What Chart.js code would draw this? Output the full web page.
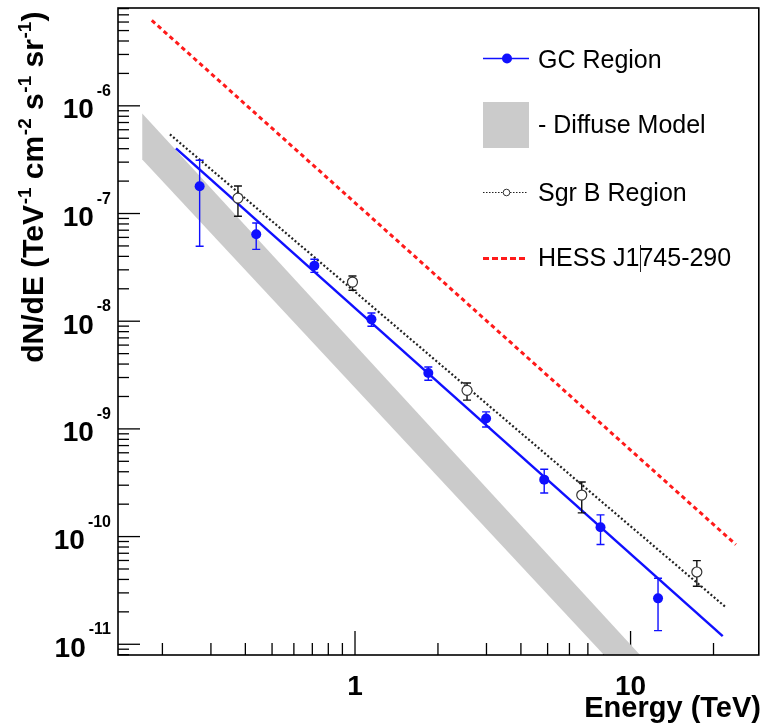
<!DOCTYPE html>
<html><head><meta charset="utf-8">
<script src="https://cdn.jsdelivr.net/npm/chart.js@4.4.1/dist/chart.umd.min.js"></script>
<style>html,body{margin:0;padding:0;background:#fff;}#wrap{width:765px;height:726px;position:relative;}</style>
</head><body><div id="wrap"><canvas id="c"></canvas></div>
<script>
// ---- data ----
const gcEnergy    = [0.273, 0.438, 0.712, 1.147, 1.845, 2.99, 4.86, 7.78, 12.58];
const gcFlux      = [1.79e-7, 6.41e-8, 3.28e-8, 1.04e-8, 3.30e-9, 1.25e-9, 3.38e-10, 1.22e-10, 2.67e-11];
const gcErrHigh   = [3.12e-7, 8.16e-8, 3.76e-8, 1.19e-8, 3.76e-9, 1.44e-9, 4.22e-10, 1.59e-10, 4.10e-11];
const gcErrLow    = [4.96e-8, 4.65e-8, 2.84e-8, 8.97e-9, 2.83e-9, 1.04e-9, 2.54e-10, 8.43e-11, 1.34e-11];

const sgrEnergy   = [0.376, 0.979, 2.55, 6.65, 17.4];
const sgrFlux     = [1.39e-7, 2.31e-8, 2.28e-9, 2.43e-10, 4.69e-11];
const sgrErrHigh  = [1.80e-7, 2.63e-8, 2.67e-9, 3.21e-10, 5.98e-11];
const sgrErrLow   = [9.42e-8, 1.94e-8, 1.85e-9, 1.66e-10, 3.46e-11];

const gcFitEnergy  = [0.224, 21.6];
const gcFitFlux    = [4.03e-7, 1.19e-11];
const sgrFitEnergy = [0.213, 22.1];
const sgrFitFlux   = [5.43e-7, 2.22e-11];
const hessEnergy   = [0.183, 24.1];
const hessFlux     = [6.22e-6, 8.43e-11];

const diffuseEnergy = [0.169, 10.83, 8.01, 0.169];
const diffuseFlux   = [8.47e-7, 7.95e-12, 7.95e-12, 3.18e-7];

const xMajorValues = [1, 10];
const xMajorLabels = ['1', '10'];
const yMajorValues = [1e-11, 1e-10, 1e-9, 1e-8, 1e-7, 1e-6];
const yMajorLabels = ['-11', '-10', '-9', '-8', '-7', '-6'];

const legendLabels = ['GC Region', '- Diffuse Model', 'Sgr B Region', 'HESS J1745-290'];

const X_MIN = 0.138, X_MAX = 29.2, Y_MIN = 7.95e-12, Y_MAX = 8.1e-6;

const BLUE = '#1010ff', RED = '#ff1a1a', GRAY = '#cbcbcb';
const FONT = "'Liberation Sans', Arial, sans-serif";

function pts(xs, ys) { return xs.map((x, i) => ({x: x, y: ys[i]})); }

// ---- plugin: ROOT-like axes, error bars, legend ----
const rootPlugin = {
  id: 'rootStyle',
  beforeDatasetsDraw(chart) {
    const {ctx, chartArea: a, scales: {x, y}} = chart;
    ctx.save();
    ctx.strokeStyle = '#000';
    ctx.lineWidth = 1.3;
    for (let n = -12; n <= -5; n++) {
      for (let k = 1; k <= 9; k++) {
        const v = k * Math.pow(10, n);
        if (v < Y_MIN || v > Y_MAX) continue;
        const py = y.getPixelForValue(v);
        const len = k === 1 ? 22 : 11;
        ctx.beginPath(); ctx.moveTo(a.left, py); ctx.lineTo(a.left + len, py); ctx.stroke();
      }
    }
    for (let n = -1; n <= 1; n++) {
      for (let k = 1; k <= 9; k++) {
        const v = k * Math.pow(10, n);
        if (v < X_MIN || v > X_MAX) continue;
        const px = x.getPixelForValue(v);
        const len = k === 1 ? 24 : 12;
        ctx.beginPath(); ctx.moveTo(px, a.bottom); ctx.lineTo(px, a.bottom - len); ctx.stroke();
      }
    }
    ctx.restore();
  },
  beforeDatasetDraw(chart, args) {
    const ds = chart.data.datasets[args.index];
    if (!ds.errorBars) return;
    const {ctx, scales: {x, y}} = chart;
    const eb = ds.errorBars;
    ctx.save();
    ctx.strokeStyle = eb.color;
    ctx.lineWidth = 1.4;
    ds.data.forEach((p, i) => {
      const px = x.getPixelForValue(p.x);
      const y1 = y.getPixelForValue(eb.high[i]);
      const y2 = y.getPixelForValue(eb.low[i]);
      ctx.beginPath();
      ctx.moveTo(px, y1); ctx.lineTo(px, y2);
      ctx.moveTo(px - 4, y1); ctx.lineTo(px + 4, y1);
      ctx.moveTo(px - 4, y2); ctx.lineTo(px + 4, y2);
      ctx.stroke();
    });
    ctx.restore();
  },
  afterDatasetsDraw(chart) {
    const {ctx, chartArea: a} = chart;
    ctx.save();
    ctx.strokeStyle = '#000';
    ctx.lineWidth = 1.6;
    ctx.strokeRect(a.left, a.top, a.right - a.left, a.bottom - a.top);
    ctx.restore();
  },
  afterDraw(chart) {
    const {ctx, chartArea: a, scales: {x, y}} = chart;
    ctx.save();
    ctx.fillStyle = '#000';
    // y tick labels
    yMajorValues.forEach((v, i) => {
      const py = y.getPixelForValue(v);
      ctx.font = 'bold 16px ' + FONT;
      ctx.textAlign = 'right'; ctx.textBaseline = 'alphabetic';
      const sw = ctx.measureText(yMajorLabels[i]).width;
      ctx.fillText(yMajorLabels[i], 111, py - 10);
      ctx.font = 'bold 28px ' + FONT;
      ctx.fillText('10', 111 - sw - 3, py + 12.5);
    });
    // x tick labels
    ctx.font = 'bold 28px ' + FONT;
    ctx.textAlign = 'center';
    xMajorValues.forEach((v, i) => {
      ctx.fillText(xMajorLabels[i], x.getPixelForValue(v), 695);
    });
    // x title
    ctx.font = 'bold 29px ' + FONT;
    ctx.textAlign = 'right';
    ctx.fillText('Energy (TeV)', 761, 717);
    // y title (rotated, rich text with superscripts)
    const parts = [['dN/dE (TeV', 0], ['-1', 1], [' cm', 0], ['-2', 1], [' s', 0], ['-1', 1], [' sr', 0], ['-1', 1], [')', 0]];
    const fMain = 'bold 30px ' + FONT, fSup = 'bold 19px ' + FONT;
    let total = 0;
    parts.forEach(p => { ctx.font = p[1] ? fSup : fMain; total += ctx.measureText(p[0]).width; });
    ctx.translate(43, 14 + total);
    ctx.rotate(-Math.PI / 2);
    ctx.textAlign = 'left';
    let cx = 0;
    parts.forEach(p => {
      ctx.font = p[1] ? fSup : fMain;
      ctx.fillText(p[0], cx, p[1] ? -12 : 0);
      cx += ctx.measureText(p[0]).width + (p[1] ? 0 : 0.6);
    });
    ctx.setTransform(1, 0, 0, 1, 0, 0);
    // legend
    const lx0 = 483, lx1 = 529, tx = 538;
    const rows = [58.5, 125, 192.5, 258.5];
    const base = [68, 133, 201, 266];
    // GC
    ctx.strokeStyle = BLUE; ctx.lineWidth = 1.5;
    ctx.beginPath(); ctx.moveTo(lx0, rows[0]); ctx.lineTo(lx1, rows[0]); ctx.stroke();
    ctx.fillStyle = BLUE;
    ctx.beginPath(); ctx.arc(507, rows[0], 5, 0, 2 * Math.PI); ctx.fill();
    // Diffuse
    ctx.fillStyle = GRAY;
    ctx.fillRect(lx0, 102, lx1 - lx0, 46);
    // Sgr B
    ctx.strokeStyle = '#222'; ctx.lineWidth = 1; ctx.setLineDash([1.5, 1.5]);
    ctx.beginPath(); ctx.moveTo(lx0, rows[2]); ctx.lineTo(lx1 - 2, rows[2]); ctx.stroke();
    ctx.setLineDash([]);
    ctx.fillStyle = '#fff'; ctx.strokeStyle = '#333'; ctx.lineWidth = 1;
    ctx.beginPath(); ctx.arc(506.5, rows[2], 3.3, 0, 2 * Math.PI); ctx.fill(); ctx.stroke();
    // HESS
    ctx.strokeStyle = RED; ctx.lineWidth = 3; ctx.setLineDash([6, 3]);
    ctx.beginPath(); ctx.moveTo(lx0, rows[3]); ctx.lineTo(lx1 - 2, rows[3]); ctx.stroke();
    ctx.setLineDash([]);
    // texts
    ctx.fillStyle = '#000';
    ctx.font = '25px ' + FONT;
    ctx.textAlign = 'left';
    legendLabels.forEach((t, i) => ctx.fillText(t, tx, base[i]));
    // stray cursor mark seen in the reference
    ctx.strokeStyle = '#222'; ctx.lineWidth = 1;
    ctx.beginPath(); ctx.moveTo(640.5, 245); ctx.lineTo(640.5, 272); ctx.stroke();
    ctx.restore();
  }
};

const ctx = document.getElementById('c');
new Chart(ctx, {
  type: 'scatter',
  data: {
    datasets: [
      { label: 'GC Region', data: pts(gcEnergy, gcFlux), showLine: false,
        pointRadius: 5, pointHoverRadius: 5, pointBackgroundColor: BLUE, pointBorderWidth: 0,
        errorBars: {low: gcErrLow, high: gcErrHigh, color: BLUE}, order: 0 },
      { label: 'Sgr B Region', data: pts(sgrEnergy, sgrFlux), showLine: false,
        pointRadius: 5, pointHoverRadius: 5, pointBackgroundColor: '#fff', pointBorderColor: '#333', pointBorderWidth: 1.2,
        errorBars: {low: sgrErrLow, high: sgrErrHigh, color: '#111'}, order: 1 },
      { label: 'GC fit', data: pts(gcFitEnergy, gcFitFlux), showLine: true, pointRadius: 0,
        borderColor: BLUE, borderWidth: 2.5, order: 2 },
      { label: 'Sgr B fit', data: pts(sgrFitEnergy, sgrFitFlux), showLine: true, pointRadius: 0,
        borderColor: '#222', borderWidth: 2.2, borderDash: [2, 2.2], order: 3 },
      { label: 'HESS J1745-290', data: pts(hessEnergy, hessFlux), showLine: true, pointRadius: 0,
        borderColor: RED, borderWidth: 3, borderDash: [4.5, 3.5], order: 4 },
      { label: 'Diffuse Model', data: pts(diffuseEnergy, diffuseFlux), showLine: true, pointRadius: 0,
        borderWidth: 0, borderColor: GRAY, backgroundColor: GRAY, fill: 'shape', tension: 0, order: 5 }
    ]
  },
  options: {
    responsive: true,
    maintainAspectRatio: false,
    animation: false,
    events: [],
    layout: { padding: { left: 118, top: 8, right: 4, bottom: 71 } },
    plugins: { legend: { display: false }, tooltip: { enabled: false } },
    scales: {
      x: { type: 'logarithmic', min: X_MIN, max: X_MAX, display: false },
      y: { type: 'logarithmic', min: Y_MIN, max: Y_MAX, display: false }
    }
  },
  plugins: [rootPlugin]
});
</script>
</body></html>
